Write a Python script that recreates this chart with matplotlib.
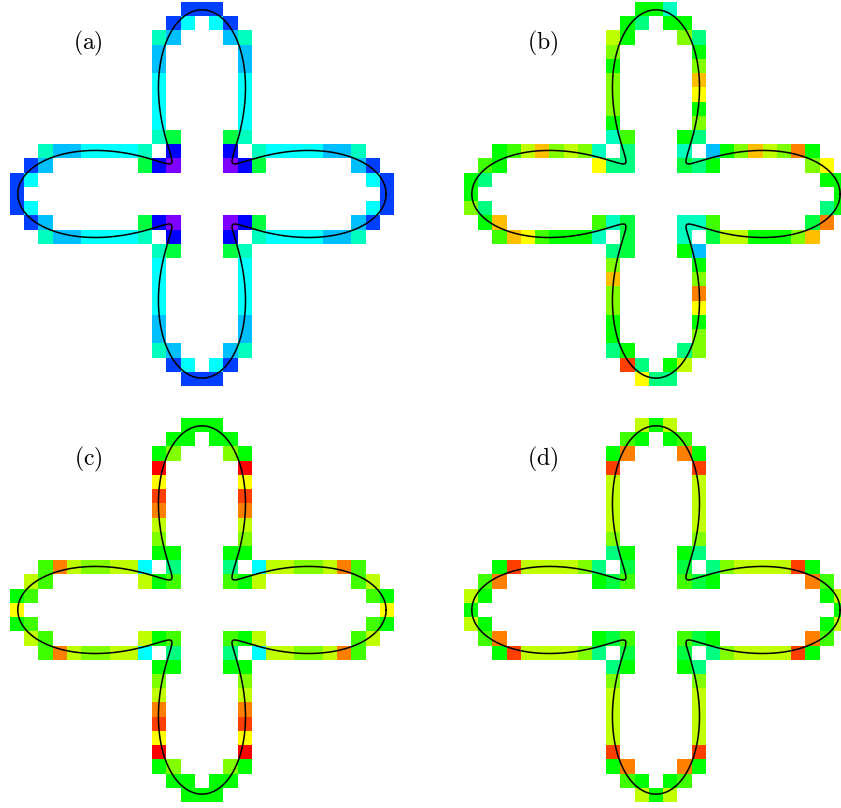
import numpy as np
import matplotlib
matplotlib.use("Agg")
import matplotlib.pyplot as plt
from matplotlib.colors import ListedColormap, BoundaryNorm, hsv_to_rgb

plt.rcParams['mathtext.fontset'] = 'cm'

# colour codes: index k -> hue 15*k degrees (0 red ... 8 green ... c cyan ... g blue ... i violet)
CODES = "0123456789abcdefghi"

PANEL_A = [
    "............fff............",
    "...........fc.cf...........",
    "..........bd...db..........",
    "..........d.....d..........",
    "..........d.....d..........",
    "..........c.....c..........",
    "..........c.....c..........",
    "..........c.....c..........",
    "..........c.....c..........",
    "..........b9...9b..........",
    "..bddccccb.g...g.bccccddb..",
    ".fd......9gi...ig9......df.",
    "fc.......................cf",
    "f.........................f",
    "fc.......................cf",
    ".fd......9gi...ig9......df.",
    "..bddccccb.g...g.bccccddb..",
    "..........b9...9b..........",
    "..........c.....c..........",
    "..........c.....c..........",
    "..........c.....c..........",
    "..........c.....c..........",
    "..........d.....d..........",
    "..........d.....d..........",
    "..........bd...db..........",
    "...........fc.cf...........",
    "............fff............",
]

PANEL_B = [
    "............88b............",
    "...........8a.88...........",
    "..........58...6a..........",
    "..........6.....8..........",
    "..........8.....6..........",
    "..........6.....3..........",
    "..........6.....4..........",
    "..........6.....8..........",
    "..........8.....6..........",
    "..........b7...8a..........",
    "..8753656b.a...b.d8635628..",
    ".78......4aa...9a8......64.",
    "8a.......................88",
    "8.........................8",
    "6a.......................a8",
    ".83......7b9...bb7......92.",
    "..7347888b.9...b.95588863..",
    "..........a9...8d..........",
    "..........6.....8..........",
    "..........3.....6..........",
    "..........6.....2..........",
    "..........6.....4..........",
    "..........8.....8..........",
    "..........8.....6..........",
    "..........a8...a6..........",
    "...........1a.85...........",
    "............4aa............",
]

PANEL_C = [
    "............888............",
    "...........88.88...........",
    "..........86...68..........",
    "..........0.....0..........",
    "..........4.....4..........",
    "..........1.....1..........",
    "..........2.....2..........",
    "..........5.....5..........",
    "..........6.....6..........",
    "..........88...88..........",
    "..7256655c.a...a.c5566527..",
    ".57......587...785......75.",
    "87.......................78",
    "4.........................4",
    "87.......................78",
    ".57......587...785......75.",
    "..7256655c.a...a.c5566527..",
    "..........88...88..........",
    "..........6.....6..........",
    "..........5.....5..........",
    "..........2.....2..........",
    "..........1.....1..........",
    "..........4.....4..........",
    "..........0.....0..........",
    "..........86...68..........",
    "...........88.88...........",
    "............888............",
]

PANEL_D = [
    "............585............",
    "...........78.87...........",
    "..........82...28..........",
    "..........1.....1..........",
    "..........5.....5..........",
    "..........5.....5..........",
    "..........5.....5..........",
    "..........5.....5..........",
    "..........6.....6..........",
    "..........a8...8a..........",
    "..8155556a.9...9.a6555518..",
    ".72......897...798......27.",
    "58.......................85",
    "8.........................8",
    "58.......................85",
    ".72......897...798......27.",
    "..8155556a.9...9.a6555518..",
    "..........a8...8a..........",
    "..........6.....6..........",
    "..........5.....5..........",
    "..........5.....5..........",
    "..........5.....5..........",
    "..........5.....5..........",
    "..........1.....1..........",
    "..........82...28..........",
    "...........78.87...........",
    "............585............",
]

LABELS = ["(a)", "(b)", "(c)", "(d)"]
PANELS = [PANEL_A, PANEL_B, PANEL_C, PANEL_D]

# interface curve: r(theta) = R_MEAN + R_AMP * cos(N_PETALS * theta), in cell units
R_MEAN = 8.0
R_AMP = 4.95
N_PETALS = 4
GRID_N = 27

W, H = 841, 808
fig = plt.figure(figsize=(W / 100, H / 100), dpi=100)

cell = 14.22
size = GRID_N * cell
origins = [(10, 2), (464, 2), (10, 418), (464, 418)]  # top-left pixel of each panel

colors = [hsv_to_rgb([k * 15 / 360.0, 1.0, 1.0]) for k in range(len(CODES))]
cmap = ListedColormap(colors)
cmap.set_bad((1, 1, 1, 0))
norm = BoundaryNorm(np.arange(len(CODES) + 1) - 0.5, cmap.N)

theta = np.linspace(0, 2 * np.pi, 3000)
c0 = GRID_N / 2.0

for panel, label, (x0, y0) in zip(PANELS, LABELS, origins):
    ax = fig.add_axes([x0 / W, 1 - (y0 + size) / H, size / W, size / H])
    grid = np.full((GRID_N, GRID_N), np.nan)
    for i, row in enumerate(panel):
        row = row.ljust(GRID_N, ".")[:GRID_N]
        for j, ch in enumerate(row):
            if ch != ".":
                grid[i, j] = CODES.index(ch)
    ax.imshow(np.ma.masked_invalid(grid), cmap=cmap, norm=norm,
              extent=[0, GRID_N, GRID_N, 0], interpolation="nearest")
    r = R_MEAN + R_AMP * np.cos(N_PETALS * theta)
    ax.plot(c0 + r * np.cos(theta), c0 - r * np.sin(theta), color="black",
            lw=1.1, clip_on=False)
    ax.text(5.5, 2.95, r"$\mathrm{" + label + "}$", fontsize=17,
            ha="center", va="center")
    ax.set_xlim(0, GRID_N)
    ax.set_ylim(GRID_N, 0)
    ax.axis("off")

fig.savefig("out.png", dpi=100)
